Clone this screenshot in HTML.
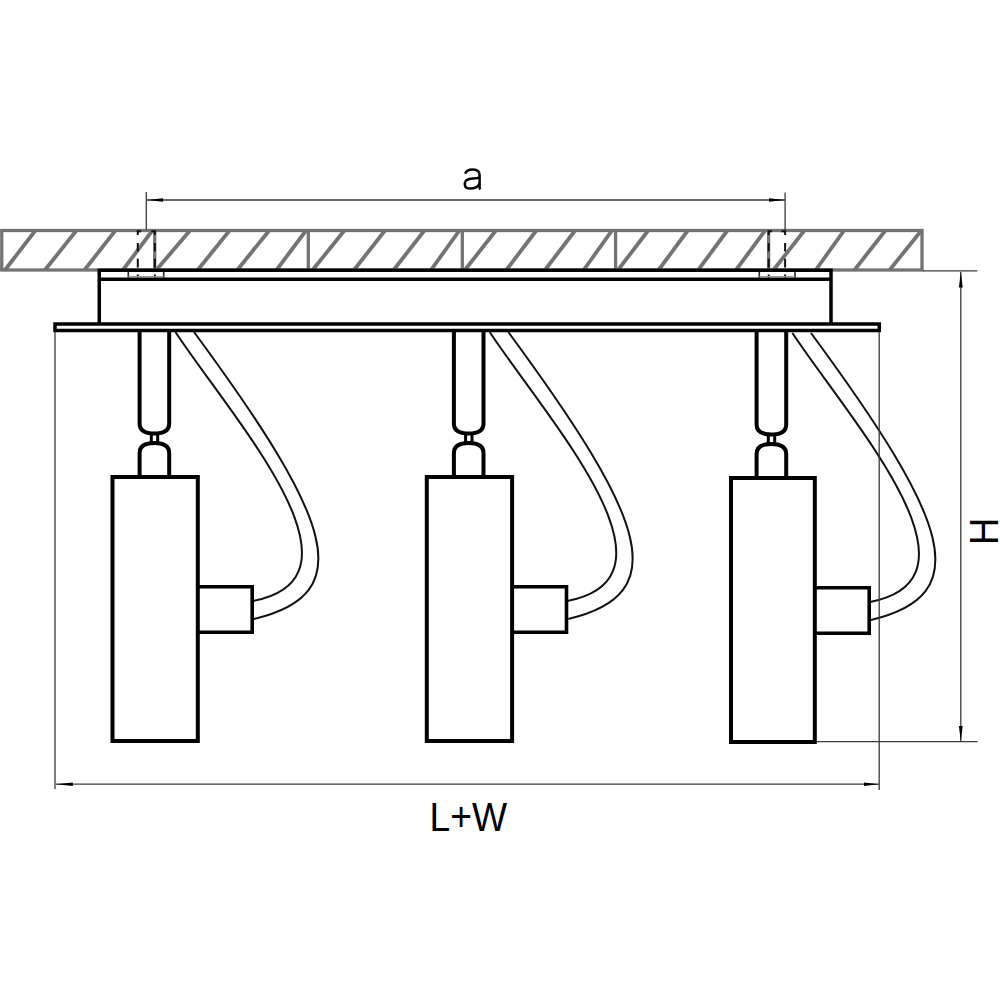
<!DOCTYPE html>
<html><head><meta charset="utf-8"><title>drawing</title>
<style>
html,body{margin:0;padding:0;background:#fff;width:1000px;height:1000px;overflow:hidden}
svg{display:block;font-family:"Liberation Sans",sans-serif}
</style></head><body>
<svg width="1000" height="1000" viewBox="0 0 1000 1000">
<g stroke="#737373" stroke-width="3.3" fill="none">
<rect x="1.75" y="230.5" width="920.25" height="39.5"/>
<line x1="154.7" y1="230.5" x2="154.7" y2="270"/>
<line x1="308.3" y1="230.5" x2="308.3" y2="270"/>
<line x1="462.3" y1="230.5" x2="462.3" y2="270"/>
<line x1="615.6" y1="230.5" x2="615.6" y2="270"/>
<line x1="768.6" y1="230.5" x2="768.6" y2="270"/>
<line x1="5" y1="270" x2="35" y2="231" stroke-width="3.8"/>
<line x1="45" y1="270" x2="76" y2="231" stroke-width="3.8"/>
<line x1="84.5" y1="270" x2="115" y2="231" stroke-width="3.8"/>
<line x1="123" y1="270" x2="152" y2="231" stroke-width="3.8"/>
<line x1="156.3" y1="270" x2="189.6" y2="231" stroke-width="3.8"/>
<line x1="197.7" y1="270" x2="229.2" y2="231" stroke-width="3.8"/>
<line x1="237.3" y1="270" x2="268.8" y2="231" stroke-width="3.8"/>
<line x1="276.5" y1="270" x2="305.7" y2="231" stroke-width="3.8"/>
<line x1="312.6" y1="270" x2="344" y2="231" stroke-width="3.8"/>
<line x1="354" y1="270" x2="384.6" y2="231" stroke-width="3.8"/>
<line x1="393.6" y1="270" x2="424" y2="231" stroke-width="3.8"/>
<line x1="431" y1="270" x2="459" y2="231" stroke-width="3.8"/>
<line x1="464.9" y1="270" x2="495.5" y2="231" stroke-width="3.8"/>
<line x1="506.3" y1="270" x2="536" y2="231" stroke-width="3.8"/>
<line x1="545" y1="270" x2="574.7" y2="231" stroke-width="3.8"/>
<line x1="583.7" y1="270" x2="611.6" y2="231" stroke-width="3.8"/>
<line x1="618" y1="270" x2="647.8" y2="231" stroke-width="3.8"/>
<line x1="658.6" y1="270" x2="687.4" y2="231" stroke-width="3.8"/>
<line x1="698.2" y1="270" x2="727" y2="231" stroke-width="3.8"/>
<line x1="736" y1="270" x2="764.8" y2="231" stroke-width="3.8"/>
<line x1="773.5" y1="270" x2="804" y2="231" stroke-width="3.8"/>
<line x1="815.8" y1="270" x2="843.7" y2="231" stroke-width="3.8"/>
<line x1="854.5" y1="270" x2="885" y2="231" stroke-width="3.8"/>
<line x1="889.6" y1="270" x2="921" y2="231" stroke-width="3.8"/>
</g>
<g stroke="#3a3a3a" stroke-width="1.3" fill="none">
<line x1="146.3" y1="192" x2="146.3" y2="230"/>
<line x1="785.1" y1="192.5" x2="785.1" y2="230"/>
<line x1="147" y1="200" x2="785" y2="200"/>
</g>
<path d="M147 200 L163 198.3 L163 201.7 Z" fill="#000"/>
<path d="M785 200 L769 198.3 L769 201.7 Z" fill="#000"/>
<g stroke="#000" stroke-width="3.5" fill="none">
<path d="M99.25 324 V270.2 H831 V324"/>
<line x1="99.25" y1="279.2" x2="831" y2="279.2"/>
</g>
<g stroke="#222" stroke-width="1.6">
<line x1="128.3" y1="271.5" x2="128.3" y2="278"/>
<line x1="163.7" y1="271.5" x2="163.7" y2="278"/>
<line x1="759.3" y1="271.5" x2="759.3" y2="278"/>
<line x1="795" y1="271.5" x2="795" y2="278"/>
</g>
<g stroke="#111" stroke-width="2" fill="none">
<line x1="137.8" y1="230.5" x2="137.8" y2="235"/>
<line x1="137.8" y1="243" x2="137.8" y2="251.4"/>
<line x1="137.8" y1="258.6" x2="137.8" y2="267.6"/>
<line x1="137.8" y1="274.5" x2="137.8" y2="277.5"/>
<line x1="154.9" y1="230.5" x2="154.9" y2="235"/>
<line x1="154.9" y1="243" x2="154.9" y2="251.4"/>
<line x1="154.9" y1="258.6" x2="154.9" y2="267.6"/>
<line x1="154.9" y1="274.5" x2="154.9" y2="277.5"/>
<line x1="136.8" y1="231.3" x2="141.10000000000002" y2="231.3"/>
<line x1="151.3" y1="231.3" x2="155.9" y2="231.3"/>
<line x1="768.7" y1="230.5" x2="768.7" y2="235"/>
<line x1="768.7" y1="243" x2="768.7" y2="251.4"/>
<line x1="768.7" y1="258.6" x2="768.7" y2="267.6"/>
<line x1="768.7" y1="274.5" x2="768.7" y2="277.5"/>
<line x1="785.1" y1="230.5" x2="785.1" y2="235"/>
<line x1="785.1" y1="243" x2="785.1" y2="251.4"/>
<line x1="785.1" y1="258.6" x2="785.1" y2="267.6"/>
<line x1="785.1" y1="274.5" x2="785.1" y2="277.5"/>
<line x1="767.7" y1="231.3" x2="772.0" y2="231.3"/>
<line x1="781.5" y1="231.3" x2="786.1" y2="231.3"/>
</g>
<g stroke="#9a9a9a" stroke-width="1">
<line x1="128.3" y1="276.5" x2="163.7" y2="276.5"/>
<line x1="759.3" y1="276.5" x2="795" y2="276.5"/>
</g>
<g transform="translate(0 0)">
<path d="M175.4 332 C232.5 418.5 377.3 577.4 253 601" stroke="#111" stroke-width="2" fill="none"/>
<path d="M194 332 C332.1 519.7 359.8 593.8 254 619" stroke="#111" stroke-width="2" fill="none"/>
<path d="M139.6 327 V423.5 Q139.6 433.5 154.4 433.5 Q169.2 433.5 169.2 423.5 V327" stroke="#000" stroke-width="4" fill="none"/>
<rect x="151.3" y="434" width="6.4" height="8.5" stroke="#000" stroke-width="3" fill="#fff"/>
<path d="M139.6 477 V453 Q139.6 443 154.4 443 Q169.2 443 169.2 453 V477" stroke="#000" stroke-width="4" fill="none"/>
<rect x="112.5" y="477" width="85.3" height="264" stroke="#000" stroke-width="4" fill="#fff"/>
<path d="M197.8 586.8 H252.2 V632.2 H197.8" stroke="#000" stroke-width="3.6" fill="none"/>
</g>
<g transform="translate(314.3 0)">
<path d="M175.4 332 C232.5 418.5 377.3 577.4 253 601" stroke="#111" stroke-width="2" fill="none"/>
<path d="M194 332 C332.1 519.7 359.8 593.8 254 619" stroke="#111" stroke-width="2" fill="none"/>
<path d="M139.6 327 V423.5 Q139.6 433.5 154.4 433.5 Q169.2 433.5 169.2 423.5 V327" stroke="#000" stroke-width="4" fill="none"/>
<rect x="151.3" y="434" width="6.4" height="8.5" stroke="#000" stroke-width="3" fill="#fff"/>
<path d="M139.6 477 V453 Q139.6 443 154.4 443 Q169.2 443 169.2 453 V477" stroke="#000" stroke-width="4" fill="none"/>
<rect x="112.5" y="477" width="85.3" height="264" stroke="#000" stroke-width="4" fill="#fff"/>
<path d="M197.8 586.8 H252.2 V632.2 H197.8" stroke="#000" stroke-width="3.6" fill="none"/>
</g>
<g transform="translate(617 1)">
<path d="M175.4 332 C232.5 418.5 377.3 577.4 253 601" stroke="#111" stroke-width="2" fill="none"/>
<path d="M194 332 C332.1 519.7 359.8 593.8 254 619" stroke="#111" stroke-width="2" fill="none"/>
<path d="M139.6 327 V423.5 Q139.6 433.5 154.4 433.5 Q169.2 433.5 169.2 423.5 V327" stroke="#000" stroke-width="4" fill="none"/>
<rect x="151.3" y="434" width="6.4" height="8.5" stroke="#000" stroke-width="3" fill="#fff"/>
<path d="M139.6 477 V453 Q139.6 443 154.4 443 Q169.2 443 169.2 453 V477" stroke="#000" stroke-width="4" fill="none"/>
<rect x="114" y="477" width="83.8" height="264" stroke="#000" stroke-width="4" fill="#fff"/>
<path d="M197.8 586.8 H252.2 V632.2 H197.8" stroke="#000" stroke-width="3.6" fill="none"/>
</g>
<rect x="55" y="324" width="824.3" height="6.5" stroke="#000" stroke-width="3.5" fill="#fff"/>
<g stroke="#3a3a3a" stroke-width="1.3" fill="none">
<line x1="55" y1="332" x2="55" y2="789"/>
<line x1="879.2" y1="332" x2="879.2" y2="790"/>
<line x1="56" y1="784.2" x2="879" y2="784.2"/>
</g>
<path d="M56 784.2 L72.8 782.5 L72.8 785.9 Z" fill="#000"/>
<path d="M879 784.2 L864 782.5 L864 785.9 Z" fill="#000"/>
<g stroke="#3a3a3a" stroke-width="1.3" fill="none">
<line x1="923" y1="270.9" x2="977.3" y2="270.9"/>
<line x1="817" y1="741.6" x2="977.6" y2="741.6"/>
<line x1="960.8" y1="272" x2="960.8" y2="741"/>
</g>
<path d="M960.8 271.5 L958.9 287.5 L962.7 287.5 Z" fill="#000"/>
<path d="M960.8 741.5 L958.9 726 L962.7 726 Z" fill="#000"/>
<g stroke="#000" stroke-width="2.5" fill="none" stroke-linecap="butt"><path d="M465.2 173.6 C466.2 170.6 468.8 169.4 472.6 169.4 C477 169.4 479.6 171.3 479.6 175.2 L479.6 187.2 C479.6 188.2 479.9 188.8 480.4 189.3"/><path d="M479.6 177.3 C476.5 178.6 471.5 178.4 468.6 179.2 C465.6 180.1 464.8 182 464.8 184 C464.8 186.9 467 188.6 470.2 188.6 C474.6 188.6 478.2 186.4 479.6 183.6"/></g>
<text transform="translate(468.3 830.9) scale(0.93 1)" font-size="40" text-anchor="middle" fill="#000">L+W</text>
<text transform="translate(997.8 531.4) rotate(-90) scale(0.935 1)" font-size="41" text-anchor="middle" fill="#000">H</text>
</svg>
</body></html>
